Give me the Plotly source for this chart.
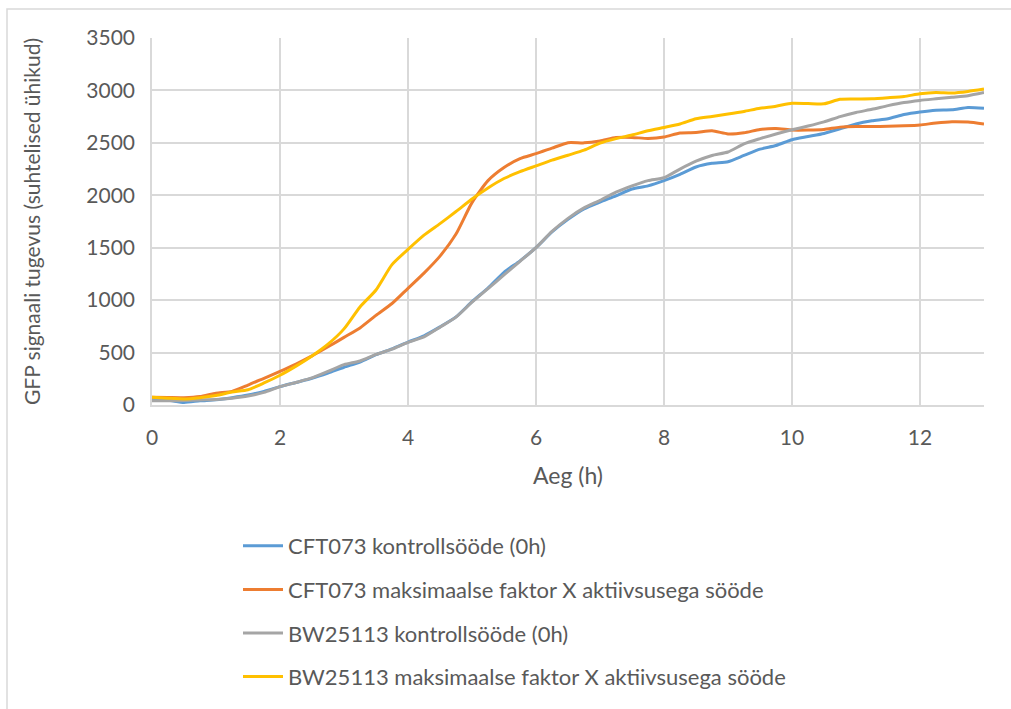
import plotly.graph_objects as go

# Measurement times (h)
time_h = [i * 0.25 for i in range(53)]

cft073_control = [
    50, 45, 25, 40, 50, 70, 95, 130, 175, 215, 255, 305, 360, 410, 480, 535,
    600, 660, 745, 840, 985, 1115, 1265, 1375, 1500, 1650, 1770, 1870, 1935,
    1995, 2060, 2090, 2140, 2200, 2270, 2305, 2320, 2380, 2440, 2475, 2530,
    2560, 2590, 2635, 2680, 2710, 2730, 2770, 2795, 2812, 2815, 2838, 2830,
]
cft073_factor = [
    75, 72, 70, 80, 113, 130, 190, 255, 320, 390, 468, 555, 645, 735, 855, 968,
    1113, 1258, 1420, 1630, 1930, 2140, 2265, 2350, 2397, 2450, 2502, 2500,
    2518, 2550, 2552, 2542, 2555, 2595, 2598, 2615, 2585, 2596, 2628, 2638,
    2622, 2622, 2628, 2650, 2655, 2655, 2658, 2662, 2670, 2690, 2702, 2698, 2680,
]
bw25113_control = [
    40, 40, 42, 48, 52, 65, 85, 120, 175, 215, 258, 320, 385, 420, 482, 532,
    597, 650, 742, 838, 980, 1110, 1240, 1370, 1500, 1655, 1780, 1880, 1952,
    2030, 2090, 2140, 2167, 2250, 2325, 2380, 2413, 2490, 2540, 2585, 2625,
    2660, 2700, 2750, 2790, 2820, 2855, 2885, 2905, 2920, 2935, 2950, 2980,
]
bw25113_factor = [
    74, 65, 58, 70, 90, 123, 145, 210, 284, 371, 468, 580, 726, 935, 1097, 1339,
    1484, 1620, 1730, 1845, 1965, 2070, 2160, 2225, 2280, 2335, 2382, 2430,
    2497, 2540, 2575, 2615, 2647, 2680, 2730, 2752, 2775, 2800, 2830, 2850,
    2878, 2875, 2872, 2915, 2918, 2920, 2930, 2942, 2968, 2980, 2975, 2990, 3013,
]

series_names = [
    "CFT073 kontrollsööde (0h)",
    "CFT073 maksimaalse faktor X aktiivsusega sööde",
    "BW25113 kontrollsööde (0h)",
    "BW25113 maksimaalse faktor X aktiivsusega sööde",
]
series_values = [cft073_control, cft073_factor, bw25113_control, bw25113_factor]
series_colors = ["#5B9BD5", "#ED7D31", "#A5A5A5", "#FFC000"]

x_ticks = [0, 2, 4, 6, 8, 10, 12]
y_ticks = [0, 500, 1000, 1500, 2000, 2500, 3000, 3500]

FONT = "Lato"
TEXT_COLOR = "#595959"
GRID = "#d9d9d9"

# plot area in pixels
L, R, T, B = 152, 984, 38, 405
PW, PH = R - L, B - T

fig = go.Figure()
for i, (name, vals, col) in enumerate(zip(series_names, series_values, series_colors)):
    fig.add_trace(go.Scatter(
        x=time_h, y=vals, name=name, mode="lines",
        line=dict(color=col, width=3, shape="spline", smoothing=0.6),
        legendgroup=f"g{i}",
    ))

fig.update_layout(
    width=1011, height=709,
    margin=dict(l=L, r=1011 - R, t=T, b=709 - B, autoexpand=False),
    paper_bgcolor="white", plot_bgcolor="white",
    font=dict(family=FONT, size=21, color=TEXT_COLOR),
    showlegend=True,
    legend=dict(
        x=(238 - L) / PW, y=(B - 525) / PH, xanchor="left", yanchor="top",
        tracegroupgap=12, font=dict(family=FONT, size=22, color=TEXT_COLOR),
        bgcolor="rgba(0,0,0,0)", itemwidth=40,
    ),
    shapes=[dict(
        type="rect", xref="paper", yref="paper",
        x0=(7 - L) / PW, x1=1.1, y0=-1.2, y1=1 + (T - 9) / PH,
        line=dict(color=GRID, width=1.5), fillcolor="rgba(0,0,0,0)", layer="below",
    )],
)

fig.update_xaxes(
    range=[0, 13], tickvals=x_ticks, ticktext=[str(v) for v in x_ticks],
    showgrid=True, gridcolor=GRID, gridwidth=1.5,
    showline=True, linecolor=GRID, linewidth=1.5, zeroline=False,
    ticks="", ticklabelstandoff=13,
    title=dict(text="Aeg (h)", standoff=20, font=dict(family=FONT, size=23, color=TEXT_COLOR)),
)
fig.update_yaxes(
    range=[0, 3500], tickvals=y_ticks, ticktext=[str(v) for v in y_ticks],
    showgrid=True, gridcolor=GRID, gridwidth=1.5,
    showline=True, linecolor=GRID, linewidth=1.5, zeroline=False,
    ticks="", ticklabelstandoff=11,
    title=dict(text="GFP signaali tugevus (suhtelised ühikud)", standoff=40,
               font=dict(family=FONT, size=21, color=TEXT_COLOR)),
)

fig.write_html("out.html")
